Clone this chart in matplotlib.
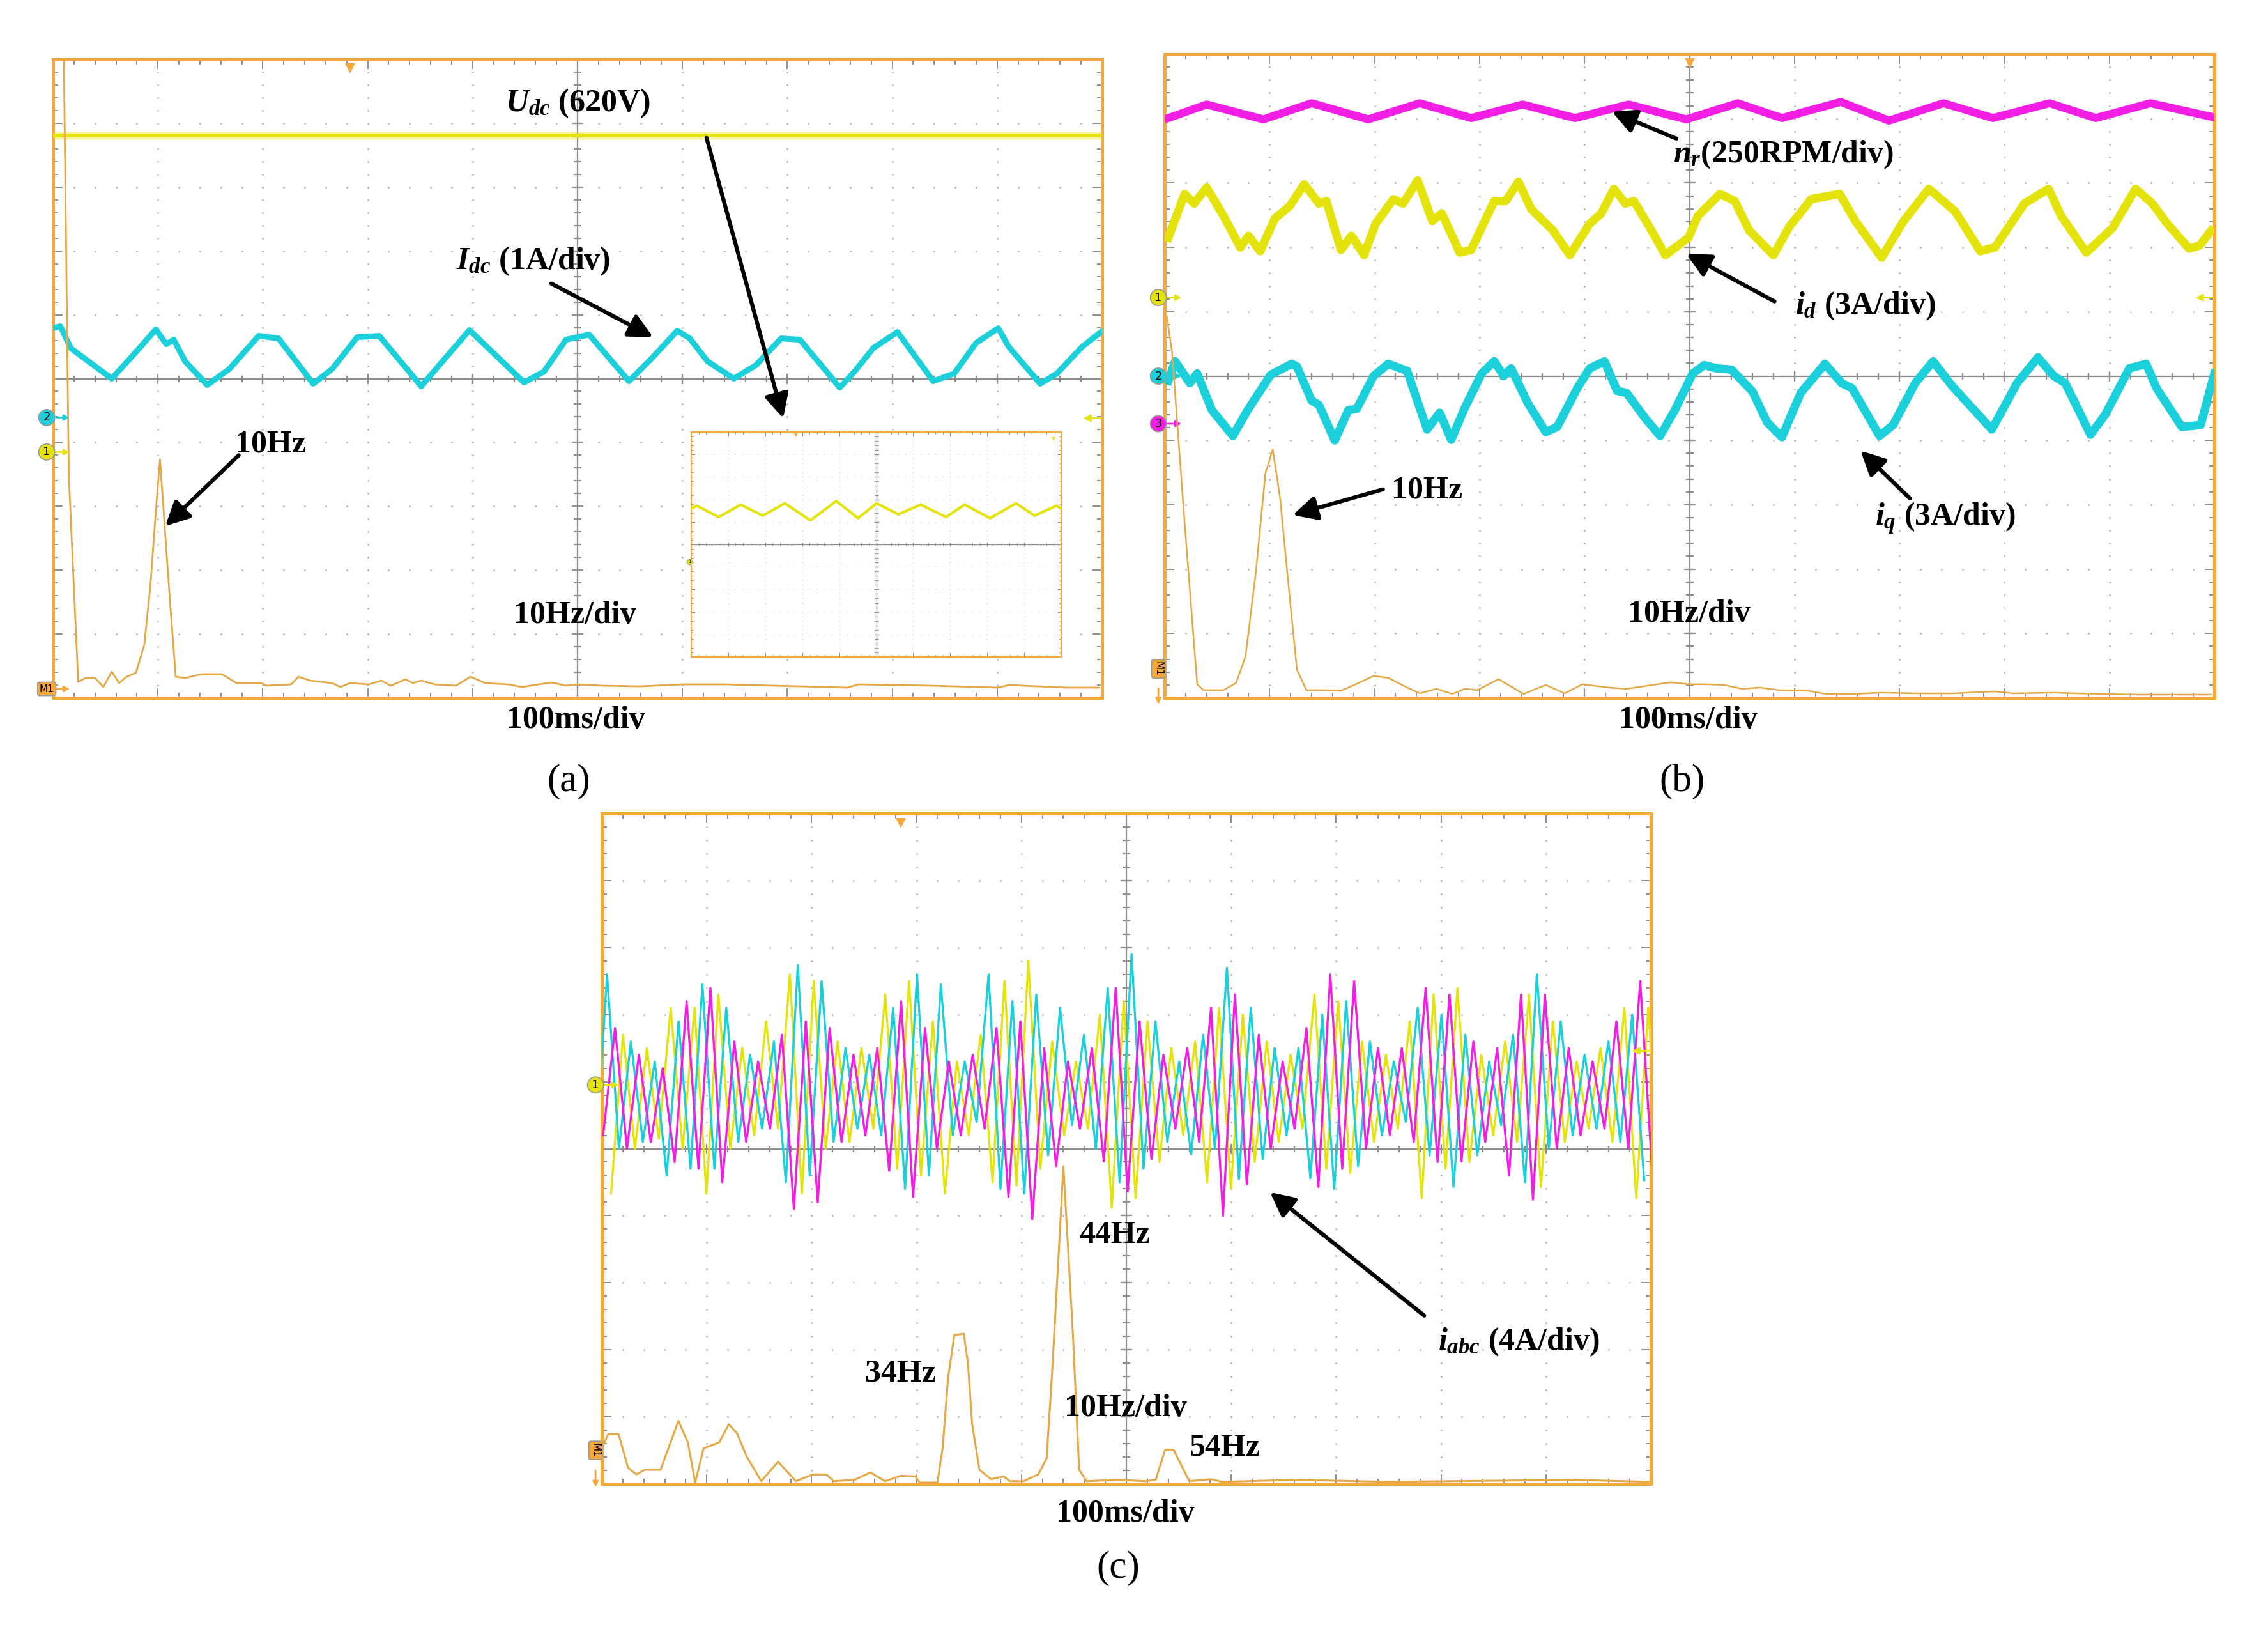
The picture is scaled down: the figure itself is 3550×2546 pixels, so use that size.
import numpy as np
import matplotlib
matplotlib.use('Agg')
import matplotlib.pyplot as plt
import matplotlib.transforms as mtransforms
from matplotlib.ticker import MultipleLocator

W, H = 3550, 2546

plt.rcParams['font.family'] = ['Liberation Serif', 'DejaVu Serif']
plt.rcParams['mathtext.fontset'] = 'custom'
plt.rcParams['mathtext.rm'] = 'Liberation Serif:bold'
plt.rcParams['mathtext.it'] = 'Liberation Serif:italic:bold'
plt.rcParams['mathtext.bf'] = 'Liberation Serif:bold'

YELLOW = '#e4e40c'
CYAN = '#1bd0da'
MAGENTA = '#f21ee4'
ORANGE = '#f6a83a'
FFT_COL = '#e5a847'
GRID = '#b4b4b4'
AXIS = '#8e8e8e'

# ---------------- data (screen divisions, 100 ms/div, 10 Hz/div) ----------------
# (a) DC link voltage / current
udc_level = 3.81
idc_x = [0.02, 0.07, 0.17, 0.56, 0.77, 0.98, 1.08, 1.15, 1.26, 1.47, 1.68, 1.96, 2.15, 2.48,
         2.66, 2.90, 3.11, 3.51, 3.67, 3.97, 4.49, 4.68, 4.89, 5.11, 5.49, 5.72, 5.95, 6.07,
         6.24, 6.49, 6.70, 6.94, 7.12, 7.50, 7.64, 7.82, 8.05, 8.39, 8.59, 8.80, 9.01, 9.11,
         9.41, 9.57, 9.81, 9.99]
idc_y = [0.80, 0.82, 0.475, 0.0, 0.38, 0.77, 0.54, 0.61, 0.27, -0.10, 0.15, 0.67, 0.63, -0.08,
         0.15, 0.65, 0.67, -0.12, 0.19, 0.76, -0.06, 0.11, 0.61, 0.69, -0.04, 0.34, 0.75, 0.63,
         0.27, 0.0, 0.21, 0.63, 0.61, -0.14, 0.11, 0.48, 0.73, -0.04, 0.08, 0.56, 0.79, 0.50,
         -0.08, 0.08, 0.50, 0.73]
# FFT of Idc, divisions above screen bottom
fft_a_x = [0.10, 0.15, 0.24, 0.31, 0.40, 0.48, 0.56, 0.63, 0.70, 0.79, 0.87, 0.93, 0.98, 1.02,
           1.07, 1.12, 1.17, 1.26, 1.36, 1.41, 1.61, 1.75, 1.99, 2.03, 2.27, 2.34, 2.45, 2.66,
           2.74, 2.83, 3.01, 3.13, 3.22, 3.36, 3.43, 3.51, 3.64, 3.84, 3.98, 4.12, 4.34, 4.47,
           4.75, 4.89, 5.00, 5.24, 5.60, 6.00, 6.42, 6.63, 7.12, 7.57, 7.68, 8.38, 9.01, 9.11,
           9.67, 9.97]
fft_a_y = [10.5, 3.5, 0.25, 0.31, 0.31, 0.17, 0.41, 0.23, 0.33, 0.39, 0.83, 1.79, 2.93, 3.74,
           2.55, 1.40, 0.33, 0.31, 0.35, 0.37, 0.37, 0.23, 0.23, 0.19, 0.21, 0.33, 0.27, 0.23,
           0.17, 0.23, 0.21, 0.27, 0.19, 0.29, 0.23, 0.27, 0.21, 0.19, 0.33, 0.23, 0.21, 0.17,
           0.24, 0.19, 0.21, 0.19, 0.18, 0.21, 0.21, 0.20, 0.18, 0.16, 0.21, 0.19, 0.16, 0.20,
           0.16, 0.16]
# zoomed Udc in the inset
inset_x = [0.0, 0.15, 0.74, 1.34, 1.93, 2.53, 3.22, 3.92, 4.51, 5.01, 5.60, 6.20, 6.89, 7.39,
           8.08, 8.78, 9.28, 9.87, 10.0]
inset_y = [1.6, 1.72, 1.22, 1.77, 1.28, 1.83, 1.07, 1.93, 1.17, 1.83, 1.34, 1.77, 1.22, 1.77,
           1.17, 1.83, 1.28, 1.72, 1.6]

# (b) speed, d/q currents
nr_x = [0.035, 0.40, 0.94, 1.40, 1.94, 2.43, 2.92, 3.41, 3.91, 4.42, 4.97, 5.46, 5.88, 6.44,
        6.90, 7.42, 7.89, 8.43, 8.87, 9.39, 9.97]
nr_y = [4.01, 4.22, 3.99, 4.24, 3.99, 4.24, 4.01, 4.22, 4.01, 4.22, 3.99, 4.24, 4.01, 4.26,
        3.97, 4.24, 4.01, 4.24, 4.01, 4.24, 4.03]
id_x = [0.035, 0.19, 0.28, 0.40, 0.56, 0.72, 0.80, 0.91, 1.05, 1.19, 1.33, 1.47, 1.54, 1.68,
        1.78, 1.90, 2.01, 2.18, 2.27, 2.41, 2.55, 2.64, 2.81, 2.92, 3.14, 3.25, 3.37, 3.49,
        3.70, 3.86, 4.05, 4.16, 4.28, 4.39, 4.47, 4.61, 4.77, 4.99, 5.08, 5.29, 5.43, 5.57,
        5.80, 5.95, 6.16, 6.43, 6.58, 6.83, 7.04, 7.28, 7.53, 7.77, 7.91, 8.19, 8.42, 8.54,
        8.78, 9.03, 9.25, 9.41, 9.55, 9.76, 9.86, 9.97]
id_y = [2.15, 2.83, 2.68, 2.93, 2.49, 2.00, 2.18, 1.94, 2.45, 2.64, 2.98, 2.68, 2.72, 1.96,
        2.18, 1.88, 2.37, 2.75, 2.68, 3.04, 2.41, 2.53, 1.92, 1.96, 2.72, 2.72, 3.02, 2.60,
        2.26, 1.88, 2.37, 2.53, 2.91, 2.68, 2.72, 2.34, 1.88, 2.15, 2.49, 2.83, 2.72, 2.26,
        1.88, 2.32, 2.75, 2.83, 2.41, 1.84, 2.41, 2.91, 2.56, 1.94, 2.00, 2.68, 2.91, 2.49,
        1.92, 2.30, 2.91, 2.68, 2.37, 1.98, 2.03, 2.26]
iq_x = [0.035, 0.10, 0.24, 0.31, 0.45, 0.65, 0.79, 1.01, 1.21, 1.26, 1.40, 1.47, 1.62, 1.75,
        1.83, 1.99, 2.13, 2.31, 2.50, 2.62, 2.73, 2.86, 3.02, 3.14, 3.23, 3.30, 3.46, 3.63,
        3.74, 3.93, 4.05, 4.19, 4.31, 4.40, 4.58, 4.72, 4.86, 5.03, 5.14, 5.26, 5.40, 5.60,
        5.74, 5.88, 6.06, 6.29, 6.45, 6.55, 6.81, 6.94, 7.15, 7.32, 7.50, 7.88, 8.12, 8.32,
        8.47, 8.58, 8.82, 8.96, 9.19, 9.35, 9.45, 9.69, 9.87, 10.0]
iq_y = [-0.07, 0.23, -0.11, 0.04, -0.53, -0.93, -0.53, 0.02, 0.19, 0.15, -0.38, -0.45, -1.00,
        -0.53, -0.51, 0.00, 0.19, 0.08, -0.83, -0.57, -0.99, -0.49, 0.04, 0.23, 0.00, 0.12,
        -0.42, -0.87, -0.79, -0.19, 0.12, 0.23, -0.23, -0.26, -0.66, -0.93, -0.53, 0.04, 0.17,
        0.12, 0.10, -0.24, -0.72, -0.95, -0.26, 0.19, -0.11, -0.19, -0.93, -0.76, -0.11, 0.23,
        -0.15, -0.83, -0.11, 0.29, 0.00, -0.11, -0.91, -0.60, 0.12, 0.19, -0.19, -0.79, -0.76,
        0.04]
fft_b_x = [0.02, 0.07, 0.19, 0.31, 0.37, 0.56, 0.68, 0.77, 0.87, 0.96, 1.03, 1.10, 1.19, 1.26,
           1.35, 1.50, 1.68, 1.82, 1.99, 2.13, 2.31, 2.43, 2.59, 2.74, 2.86, 2.98, 3.18, 3.42,
           3.63, 3.81, 3.98, 4.23, 4.40, 4.82, 5.00, 5.15, 5.33, 5.50, 5.67, 5.85, 6.13, 6.30,
           6.55, 6.82, 7.17, 7.52, 7.91, 8.08, 8.47, 8.92, 9.27, 9.97]
fft_b_y = [5.93, 5.38, 2.72, 0.21, 0.12, 0.12, 0.23, 0.64, 1.97, 3.49, 3.86, 3.10, 1.58, 0.44,
           0.12, 0.12, 0.11, 0.21, 0.34, 0.31, 0.16, 0.07, 0.14, 0.06, 0.14, 0.12, 0.29, 0.06,
           0.20, 0.07, 0.21, 0.16, 0.14, 0.24, 0.21, 0.21, 0.20, 0.14, 0.16, 0.12, 0.11, 0.06,
           0.06, 0.08, 0.07, 0.07, 0.10, 0.07, 0.08, 0.06, 0.05, 0.05]

# (c) three-phase currents: 44 Hz, extremum heights per cycle
iabc_freq = 44
first_peak = {'a': 0.202, 'b': 0.05, 'c': 0.126}
ia_peaks = [1.7, 1.5, 2.1, 2.1, 2.3, 1.5, 1.9, 2.6, 2.5, 1.6, 1.5, 2.3, 2.5, 1.9, 1.3, 1.7, 2.5,
            2.8, 1.6, 1.3, 2.0, 2.2, 1.9, 1.5, 1.6, 2.1, 2.0, 1.6, 1.4, 2.3, 2.2, 1.6, 1.4, 1.9,
            2.3, 2.4, 1.4, 1.6, 2.3, 1.9, 1.3, 1.5, 2.1, 2.1]
ia_troughs = [-0.67, 0.0, 0.15, 0.0, -0.67, 0.0, 0.2, 0.3, -0.67, 0.0, 0.1, 0.3, -0.3, -0.4,
              -0.67, 0.2, -0.5, -0.55, -0.3, 0.2, 0.3, -0.88, -0.74, -0.2, 0.2, -0.5, -0.6, -0.2,
              0.1, 0.3, -0.3, -0.36, 0.1, 0.3, -0.74, -0.3, -0.2, 0.2, 0.1, -0.57, 0.1, 0.3, 0.1,
              -0.74, -0.4]
ib_peaks = [2.6, 1.6, 1.3, 1.9, 2.45, 2.1, 1.4, 1.6, 2.74, 2.5, 1.5, 1.4, 2.1, 2.6, 2.45, 1.3,
            2.6, 2.2, 2.3, 2.1, 1.7, 2.4, 2.9, 1.9, 1.3, 1.7, 2.7, 2.1, 1.5, 1.5, 2.0, 2.2, 1.6,
            1.3, 2.1, 2.0, 1.7, 1.3, 1.7, 2.6, 1.9, 1.4, 1.6, 2.0]
ib_troughs = [-0.2, 0.0, 0.1, -0.4, -0.3, -0.3, 0.1, 0.3, -0.5, -0.4, 0.1, 0.3, 0.2, -0.6, -0.4,
              0.2, 0.4, -0.6, -0.67, -0.1, 0.35, 0.0, -0.5, -0.3, 0.1, -0.09, 0.0, -0.45, -0.16,
              0.2, -0.44, -0.6, -0.26, 0.2, 0.4, -0.1, -0.57, -0.1, 0.35, -0.5, 0.0, 0.2, 0.3,
              0.1, -0.47]
ic_peaks = [1.8, 1.4, 1.2, 2.2, 2.4, 1.6, 1.3, 1.7, 1.9, 1.8, 1.4, 1.5, 2.2, 1.8, 1.3, 1.4, 1.8,
            1.9, 1.5, 1.3, 1.5, 2.4, 1.9, 1.4, 1.5, 2.1, 2.3, 1.7, 1.3, 1.8, 2.6, 2.5, 1.5, 1.5,
            2.4, 2.3, 1.6, 1.5, 2.3, 2.3, 1.5, 1.3, 1.9, 2.5]
ic_troughs = [0.2, 0.0, 0.1, -0.2, -0.3, -0.5, 0.1, 0.3, -0.9, -0.8, 0.1, 0.2, -0.33, -0.72, 0.0,
              0.2, 0.3, -0.72, -1.05, -0.26, 0.3, -0.19, -0.64, -0.16, 0.3, 0.1, -1.0, -0.53, 0.0,
              0.3, -0.57, -0.3, 0.0, 0.2, 0.1, -0.2, -0.19, 0.1, -0.4, -0.76, 0.0, 0.2, 0.3, 0.0,
              -0.33]
fft_c_x = [0.00, 0.06, 0.16, 0.25, 0.33, 0.41, 0.56, 0.73, 0.82, 0.89, 0.97, 1.12, 1.21, 1.29,
           1.38, 1.52, 1.68, 1.85, 2.01, 2.14, 2.21, 2.41, 2.56, 2.70, 2.85, 2.99, 3.03, 3.20,
           3.25, 3.30, 3.36, 3.45, 3.49, 3.53, 3.60, 3.71, 3.83, 3.89, 4.02, 4.16, 4.24, 4.29,
           4.35, 4.40, 4.49, 4.53, 4.55, 4.62, 4.92, 5.18, 5.28, 5.37, 5.45, 5.60, 5.81, 5.91,
           6.62, 7.5, 9.26, 10.0]
fft_c_y = [0.52, 0.74, 0.74, 0.24, 0.14, 0.21, 0.21, 0.94, 0.62, 0.02, 0.53, 0.62, 0.89, 0.75,
           0.41, 0.04, 0.33, 0.04, 0.14, 0.14, 0.04, 0.06, 0.17, 0.04, 0.12, 0.11, 0.02, 0.02,
           0.55, 1.57, 2.22, 2.24, 1.80, 0.89, 0.21, 0.07, 0.11, 0.04, 0.04, 0.14, 0.38, 1.6,
           3.3, 4.74, 2.25, 0.89, 0.21, 0.04, 0.06, 0.04, 0.06, 0.51, 0.51, 0.04, 0.07, 0.03,
           0.06, 0.03, 0.06, 0.03]

# ---------------- figure ----------------
fig = plt.figure(figsize=(W / 100, H / 100), dpi=100)
fig.patch.set_facecolor('white')


def scope(px, inset=False):
    x0, y0, x1, y1 = px
    ax = fig.add_axes([x0 / W, 1 - y1 / H, (x1 - x0) / W, (y1 - y0) / H])
    ax.set_xlim(0, 10)
    ax.set_ylim(-5, 5)
    for s in ax.spines.values():
        s.set_color(ORANGE)
        s.set_linewidth(1.6 if inset else 3.6)
    for a in (ax.xaxis, ax.yaxis):
        a.set_major_locator(MultipleLocator(1))
        a.set_minor_locator(MultipleLocator(0.2))
    ax.tick_params(which='both', direction='in', top=True, right=True, labelbottom=False,
                   labelleft=False, color=AXIS, width=0.8 if inset else 1.4)
    ax.tick_params(which='major', length=4 if inset else 11)
    ax.tick_params(which='minor', length=2 if inset else 6)
    # dotted graticule
    dy = np.linspace(-5, 5, 51)
    dx = np.linspace(0, 10, 51)
    ms = 0.9 if inset else 2.0
    gcol = '#cfcfcf' if inset else GRID
    for g in [1, 2, 3, 4, 6, 7, 8, 9]:
        ax.plot(np.full_like(dy, g), dy, ls='none', marker='o', ms=ms, mew=0, color=gcol, zorder=1)
    for g in [-4, -3, -2, -1, 1, 2, 3, 4]:
        ax.plot(dx, np.full_like(dx, g), ls='none', marker='o', ms=ms, mew=0, color=gcol, zorder=1)
    # centre cross with ticks
    lw = 0.9 if inset else 1.6
    ax.axhline(0, color=AXIS, lw=lw, zorder=1)
    ax.axvline(5, color=AXIS, lw=lw, zorder=1)
    k = 0.45 if inset else 1.0
    ax.plot(dx, np.zeros_like(dx), ls='none', marker='|', ms=7 * k, mew=lw, color=AXIS, zorder=1)
    ax.plot(np.full_like(dy, 5), dy, ls='none', marker='_', ms=9 * k, mew=lw, color=AXIS, zorder=1)
    ax.plot(range(11), [0] * 11, ls='none', marker='|', ms=11 * k, mew=lw, color=AXIS, zorder=1)
    ax.plot([5] * 11, range(-5, 6), ls='none', marker='_', ms=13 * k, mew=lw, color=AXIS, zorder=1)
    return ax


def tag(ax, y, label, color, rotate=False, size=13):
    tr = mtransforms.blended_transform_factory(ax.transAxes, ax.transData)
    style = 'round,pad=0.2' if len(label) > 1 else 'circle,pad=0.2'
    ax.text(-0.006, y, label, transform=tr, ha='center', va='center', fontsize=size,
            family='DejaVu Sans', rotation=-90 if rotate else 0, clip_on=False, zorder=9,
            bbox=dict(boxstyle=style, fc=color, ec='#9a9a9a', lw=1.2))
    if rotate:
        ax.annotate('', xy=(-0.006, y - 0.55), xytext=(-0.006, y - 0.3), xycoords=tr,
                    textcoords=tr, annotation_clip=False,
                    arrowprops=dict(arrowstyle='-|>', color=color, lw=2, mutation_scale=13,
                                    shrinkA=0, shrinkB=0))
    else:
        ax.annotate('', xy=(0.016, y), xytext=(0.003, y), xycoords=tr, textcoords=tr,
                    annotation_clip=False,
                    arrowprops=dict(arrowstyle='-|>', color=color, lw=2, mutation_scale=13,
                                    shrinkA=0, shrinkB=0))


def level_arrow(ax, y, color):
    tr = mtransforms.blended_transform_factory(ax.transAxes, ax.transData)
    ax.annotate('', xy=(0.982, y), xytext=(0.999, y), xycoords=tr, textcoords=tr,
                arrowprops=dict(arrowstyle='-|>', color=color, lw=2, mutation_scale=16,
                                shrinkA=0, shrinkB=0))


def trigger(ax, x, ms=12):
    ax.plot([x], [4.86], marker='v', ms=ms, color=ORANGE, mew=0, clip_on=False, zorder=9)


def pointer(ax, tail, head):
    ax.annotate('', xy=head, xytext=tail,
                arrowprops=dict(arrowstyle='-|>,head_length=0.6,head_width=0.3', color='black',
                                lw=4.5, mutation_scale=38, shrinkA=0, shrinkB=0),
                annotation_clip=False, zorder=10)


def px_text(x, y, s, size=36, va='baseline', weight='bold'):
    fig.text(x / W, 1 - y / H, s, ha='center', va=va, fontsize=size, fontweight=weight)


# ---- (a) ----
ax_a = scope((83, 93, 1725, 1092))
ax_a.plot([0, 10], [udc_level, udc_level], color=YELLOW, lw=9, alpha=0.35, zorder=3)
ax_a.plot([0, 10], [udc_level, udc_level], color=YELLOW, lw=4.5, zorder=3)
ax_a.plot(idc_x, idc_y, color=CYAN, lw=6.5, solid_joinstyle='round', zorder=3)
ax_a.plot(fft_a_x, [v - 5 for v in fft_a_y], color=FFT_COL, lw=2.0, zorder=4)
trigger(ax_a, 2.83)
tag(ax_a, -0.61, '2', CYAN)
tag(ax_a, -1.15, '1', YELLOW)
tag(ax_a, -4.86, 'M1', ORANGE, size=11)
level_arrow(ax_a, -0.62, YELLOW)

ins = scope((1082, 676, 1661, 1028), inset=True)
ins.plot(inset_x, inset_y, color=YELLOW, lw=3, zorder=3)
trigger(ins, 2.83, ms=5)
ins.text(-0.004, -0.78, '1', transform=mtransforms.blended_transform_factory(ins.transAxes, ins.transData),
         ha='center', va='center', fontsize=5, family='DejaVu Sans', clip_on=False,
         bbox=dict(boxstyle='circle,pad=0.2', fc=YELLOW, ec='#9a9a9a', lw=0.6))
ins.plot([9.79], [4.7], marker='v', ms=4, color=YELLOW, mew=0, zorder=4)

pointer(ax_a, (6.23, 3.77), (6.96, -0.62))
pointer(ax_a, (4.75, 1.49), (5.72, 0.65))
pointer(ax_a, (1.77, -1.20), (1.07, -2.31))
px_text(904, 174, r'$U_{dc}$ (620V)')
px_text(835, 421, r'$I_{dc}$ (1A/div)')
px_text(424, 707, '10Hz')
px_text(900, 975, '10Hz/div')
px_text(901, 1139, '100ms/div')
px_text(890, 1223, '(a)', size=44, va='center', weight='normal')

# ---- (b) ----
ax_b = scope((1823, 85, 3466, 1092))
ax_b.plot(nr_x, nr_y, color=MAGENTA, lw=9, solid_joinstyle='round', zorder=3)
ax_b.plot(id_x, id_y, color=YELLOW, lw=9.5, solid_joinstyle='round', zorder=3)
ax_b.plot(iq_x, iq_y, color=CYAN, lw=9.5, solid_joinstyle='round', zorder=3)
ax_b.plot(fft_b_x, [v - 5 for v in fft_b_y], color=FFT_COL, lw=1.8, zorder=4)
trigger(ax_b, 5.0)
tag(ax_b, 1.22, '1', YELLOW)
tag(ax_b, 0.0, '2', CYAN)
tag(ax_b, -0.74, '3', MAGENTA)
tag(ax_b, -4.55, 'M1', ORANGE, rotate=True, size=11)
level_arrow(ax_b, 1.22, YELLOW)
pointer(ax_b, (4.875, 3.69), (4.26, 4.11))
pointer(ax_b, (5.81, 1.16), (4.97, 1.90))
pointer(ax_b, (7.10, -1.90), (6.63, -1.16))
pointer(ax_b, (2.08, -1.76), (1.22, -2.16))
px_text(2792, 254, r'$n_r$(250RPM/div)')
px_text(2920, 491, r'$i_d$ (3A/div)')
px_text(3045, 822, r'$i_q$ (3A/div)')
px_text(2234, 780, '10Hz')
px_text(2644, 973, '10Hz/div')
px_text(2642, 1139, '100ms/div')
px_text(2633, 1223, '(b)', size=44, va='center', weight='normal')

# ---- (c) ----
ax_c = scope((942, 1273, 2584, 2322))
period = 1000.0 / iabc_freq / 100.0
for key, peaks, troughs, col in [('a', ia_peaks, ia_troughs, YELLOW),
                                 ('b', ib_peaks, ib_troughs, CYAN),
                                 ('c', ic_peaks, ic_troughs, MAGENTA)]:
    t0 = first_peak[key]
    xs, ys = [t0 - period / 2], [troughs[0]]
    for k, p in enumerate(peaks):
        xs += [t0 + k * period, t0 + k * period + period / 2]
        ys += [p, troughs[k + 1]]
    ax_c.plot(xs, ys, color=col, lw=2.4, zorder=3)
ax_c.plot(fft_c_x, [v - 5 for v in fft_c_y], color=FFT_COL, lw=2.2, zorder=4)
trigger(ax_c, 2.85)
tag(ax_c, 0.95, '1', YELLOW)
tag(ax_c, -4.50, 'M1', ORANGE, rotate=True, size=11)
level_arrow(ax_c, 1.46, YELLOW)
pointer(ax_c, (7.84, -2.49), (6.37, -0.65))
px_text(1745, 1945, '44Hz')
px_text(1410, 2162, '34Hz')
px_text(1762, 2216, '10Hz/div')
px_text(1917, 2277, '54Hz')
px_text(2377, 2112, r'$i_{abc}$ (4A/div)')
px_text(1761, 2381, '100ms/div')
px_text(1750, 2454, '(c)', size=44, va='center', weight='normal')

fig.savefig('out.png', dpi=100, facecolor='white')
